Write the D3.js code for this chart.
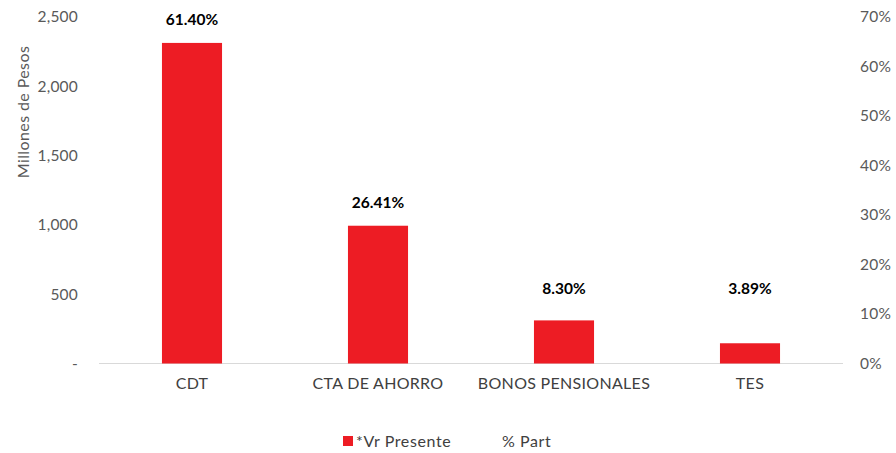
<!DOCTYPE html>
<html>
<head>
<meta charset="utf-8">
<script src="https://cdn.jsdelivr.net/npm/d3@7"></script>
<style>
  body { margin: 0; background: #fff; }
  text { font-family: Lato, "Noto Sans", sans-serif; }
</style>
</head>
<body>
<svg id="chart"></svg>
<script>
// data
const categories = ["CDT", "CTA DE AHORRO", "BONOS PENSIONALES", "TES"];
const valores = [2313, 994, 311, 146];          // *Vr Presente (millones de pesos)
const partLabels = ["61.40%", "26.41%", "8.30%", "3.89%"]; // % Part
const leftTicks = [0, 500, 1000, 1500, 2000, 2500];
const rightTicks = [0, 0.1, 0.2, 0.3, 0.4, 0.5, 0.6, 0.7];

const W = 896, H = 453;
const margin = { top: 17, right: 53, bottom: 89.5, left: 99 };
const width = W - margin.left - margin.right;
const height = H - margin.top - margin.bottom;

const svg = d3.select("#chart").attr("width", W).attr("height", H);
const g = svg.append("g").attr("transform", `translate(${margin.left},${margin.top})`);

const x = d3.scaleBand().domain(categories).range([0, width])
    .paddingInner(0.677).paddingOuter(0.3385);
const yL = d3.scaleLinear().domain([0, 2500]).range([height, 0]);
const yR = d3.scaleLinear().domain([0, 0.7]).range([height, 0]);

// baseline
g.append("line")
    .attr("x1", 0).attr("x2", width)
    .attr("y1", yL(0)).attr("y2", yL(0))
    .attr("stroke", "#d9d9d9").attr("stroke-width", 1);

// left axis
const fmt = d3.format(",");
const leftAxis = g.append("g")
    .attr("transform", "translate(-18,0)")
    .call(d3.axisLeft(yL).tickValues(leftTicks).tickSize(0).tickFormat(d => d === 0 ? "-" : fmt(d)));
leftAxis.select(".domain").remove();
leftAxis.selectAll("text").attr("fill", "#595959").style("font-size", "15.5px")
    .style("letter-spacing", "0.2px");

// right axis
const rightAxis = g.append("g")
    .attr("transform", `translate(${width + 14},0)`)
    .call(d3.axisRight(yR).tickValues(rightTicks).tickSize(0).tickFormat(d3.format(".0%")));
rightAxis.select(".domain").remove();
rightAxis.selectAll("text").attr("fill", "#595959").style("font-size", "15.5px")
    .style("letter-spacing", "0.2px");

// y title
svg.append("text")
    .attr("transform", "translate(23,112) rotate(-90)")
    .attr("text-anchor", "middle")
    .attr("dy", "0.35em")
    .attr("fill", "#595959")
    .style("font-size", "16px")
    .style("letter-spacing", "0.4px")
    .text("Millones de Pesos");

// bars
g.selectAll(".bar")
    .data(categories)
    .enter().append("rect")
    .attr("class", "bar")
    .attr("x", d => x(d))
    .attr("width", x.bandwidth())
    .attr("y", (d, i) => yL(valores[i]))
    .attr("height", (d, i) => yL(0) - yL(valores[i]))
    .attr("fill", "#ED1C24");

// % labels above bars
g.selectAll(".part-label")
    .data(categories)
    .enter().append("text")
    .attr("class", "part-label")
    .attr("x", d => x(d) + x.bandwidth() / 2)
    .attr("y", (d, i) => Math.min(yL(valores[i]) - 23, yL(0) - 75))
    .attr("text-anchor", "middle")
    .attr("dy", "0.35em")
    .attr("fill", "#000")
    .style("font-size", "15.5px")
    .style("font-weight", "bold")
    .text((d, i) => partLabels[i]);

// category labels
g.selectAll(".cat-label")
    .data(categories)
    .enter().append("text")
    .attr("class", "cat-label")
    .attr("x", d => x(d) + x.bandwidth() / 2)
    .attr("y", height + 20)
    .attr("text-anchor", "middle")
    .attr("dy", "0.35em")
    .attr("fill", "#404040")
    .style("font-size", "16px")
    .style("letter-spacing", "0.3px")
    .text(d => d);

// legend
const legend = svg.append("g").attr("transform", "translate(343,441)");
legend.append("rect")
    .attr("x", 0).attr("y", -5)
    .attr("width", 10).attr("height", 10)
    .attr("fill", "#ED1C24");
legend.append("text")
    .attr("x", 13).attr("dy", "0.35em")
    .attr("fill", "#404040").style("font-size", "16px")
    .style("letter-spacing", "0.6px")
    .text("*Vr Presente");
legend.append("text")
    .attr("x", 159).attr("dy", "0.35em")
    .attr("fill", "#404040").style("font-size", "16px")
    .style("letter-spacing", "0.6px")
    .text("% Part");
</script>
</body>
</html>
